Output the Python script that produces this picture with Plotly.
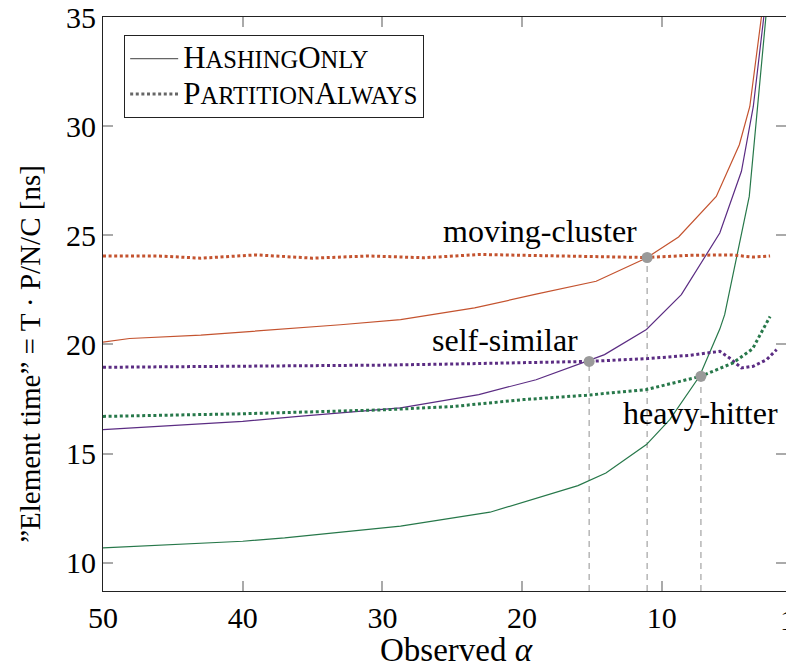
import plotly.graph_objects as go

# ---------------- data ----------------
hash_red_x = [50, 48.1, 43, 37, 33, 28.7, 25, 23.4, 19, 14.7, 11.1, 8.8, 6.1, 4.45, 3.7, 2.87, 2.5]
hash_red_y = [20.1, 20.27, 20.42, 20.7, 20.9, 21.13, 21.5, 21.67, 22.3, 22.89, 23.96, 24.92, 26.78, 29.15, 30.9, 35, 40]

hash_pur_x = [50, 40, 36, 28.7, 23.1, 19.0, 15.4, 14.1, 11.1, 8.6, 5.85, 4.3, 3.45, 2.7, 2.4]
hash_pur_y = [16.09, 16.47, 16.7, 17.09, 17.7, 18.38, 19.22, 19.53, 20.68, 22.28, 25.1, 27.93, 30.9, 35, 40]

hash_grn_x = [50, 40, 37, 28.7, 22.3, 16.0, 14.0, 11.1, 9.43, 7.3, 5.85, 5.5, 3.74, 3.1, 2.55, 2.3]
hash_grn_y = [10.68, 10.98, 11.13, 11.67, 12.31, 13.53, 14.11, 15.41, 16.55, 18.54, 20.7, 21.36, 26.78, 31.2, 35, 40]

part_red_x = [50, 46, 43, 39, 35, 31, 27, 23, 19, 15, 11.1, 8, 5, 3.5, 2.25]
part_red_y = [24.05, 24.05, 23.95, 24.1, 23.95, 24.05, 23.97, 24.12, 24.07, 24.03, 23.98, 24.08, 24.1, 24.0, 24.05]

part_pur_x = [50, 40, 30, 25, 20, 15.2, 11, 8, 5.85, 5.2, 4.3, 3.45, 2.5, 1.78]
part_pur_y = [18.95, 18.99, 19.05, 19.1, 19.15, 19.22, 19.35, 19.5, 19.68, 19.4, 18.92, 19.0, 19.3, 19.76]

part_grn_x = [50, 40, 30, 25, 19.9, 15.4, 11.1, 7.2, 4.9, 3.5, 2.76, 2.25]
part_grn_y = [16.7, 16.82, 17.0, 17.15, 17.47, 17.67, 17.93, 18.54, 19.15, 19.8, 20.68, 21.28]

cross_x = [15.2, 11.05, 7.2]
cross_y = [19.22, 23.98, 18.54]

label_text = ["moving-cluster", "self-similar", "heavy-hitter"]
label_x = [18.7, 21.2, 7.2]
label_y = [25.2, 20.2, 16.85]

x_ticks = [50, 40, 30, 20, 10, 1]
y_ticks = [10, 15, 20, 25, 30, 35]

X_RANGE = [50, 1.11]
Y_RANGE = [8.7, 35]

RED = "#c4532f"
PUR = "#5b2c83"
GRN = "#27784a"
FONT = "Liberation Serif"


def small_caps(word, big=31, small=24.5):
    out = []
    for ch in word:
        if ch.isupper():
            out.append(f"<span style='font-size:{big}px'>{ch}</span>")
        else:
            out.append(f"<span style='font-size:{small}px'>{ch.upper()}</span>")
    return "".join(out)


fig = go.Figure()

# drop lines from crossings
for cx, cy in zip(cross_x, cross_y):
    fig.add_trace(go.Scatter(x=[cx, cx], y=[Y_RANGE[0], cy], mode="lines",
                             line=dict(color="#aaaaaa", width=1.3, dash="6px,5px"),
                             showlegend=False, hoverinfo="skip"))

for xs, ys, c in [(hash_red_x, hash_red_y, RED), (hash_pur_x, hash_pur_y, PUR), (hash_grn_x, hash_grn_y, GRN)]:
    fig.add_trace(go.Scatter(x=xs, y=ys, mode="lines", line=dict(color=c, width=1.2),
                             showlegend=False))
for xs, ys, c in [(part_red_x, part_red_y, RED), (part_pur_x, part_pur_y, PUR), (part_grn_x, part_grn_y, GRN)]:
    fig.add_trace(go.Scatter(x=xs, y=ys, mode="lines", line=dict(color=c, width=3, dash="3px,2.6px"),
                             showlegend=False))

fig.add_trace(go.Scatter(x=cross_x, y=cross_y, mode="markers",
                         marker=dict(color="#9a9a9a", size=11), showlegend=False))

# legend entries
fig.add_trace(go.Scatter(x=[None], y=[None], mode="lines", name=small_caps("HashingOnly"),
                         line=dict(color="#666666", width=1.2)))
fig.add_trace(go.Scatter(x=[None], y=[None], mode="lines", name=small_caps("PartitionAlways"),
                         line=dict(color="#666666", width=3, dash="3px,2.6px")))

for t, lx, ly in zip(label_text, label_x, label_y):
    fig.add_annotation(x=lx, y=ly, text=t, showarrow=False,
                       font=dict(family=FONT, size=32, color="black"))

# last x tick label (partly outside the window)
fig.add_annotation(xref="paper", yref="paper",
                   x=(X_RANGE[0] - x_ticks[-1]) / (X_RANGE[0] - X_RANGE[1]), y=-0.018,
                   xanchor="center", yanchor="top", text=str(x_ticks[-1]), showarrow=False,
                   font=dict(family=FONT, size=30, color="black"))

# axis titles
fig.add_annotation(xref="paper", yref="paper", x=0.518, y=-0.103, xanchor="center", yanchor="middle",
                   text="Observed <i>α</i>", showarrow=False,
                   font=dict(family=FONT, size=33, color="black"))
fig.add_annotation(xref="paper", yref="paper", x=-0.107, y=0.413, xanchor="center", yanchor="middle",
                   text="”Element time” = T · P/N/C [ns]", textangle=-90, showarrow=False,
                   font=dict(family=FONT, size=29, color="black"))

fig.update_layout(
    width=786, height=671,
    margin=dict(l=103, r=0, t=17, b=80),
    plot_bgcolor="white", paper_bgcolor="white",
    font=dict(family=FONT, size=30, color="black"),
    legend=dict(x=0.031, y=0.969, xanchor="left", yanchor="top",
                bgcolor="white", bordercolor="#222", borderwidth=1,
                font=dict(family=FONT, size=25, color="black"),
                tracegroupgap=0, itemwidth=48),
)
fig.update_xaxes(range=X_RANGE, tickvals=x_ticks[:-1], ticktext=[str(v) for v in x_ticks[:-1]],
                 showgrid=False, zeroline=False,
                 showline=True, linecolor="#222", linewidth=1.2, mirror="ticks",
                 ticks="inside", ticklen=10, tickcolor="#aaaaaa", tickwidth=1.5,
                 tickfont=dict(family=FONT, size=30))
fig.update_yaxes(range=Y_RANGE, tickvals=y_ticks, ticktext=[str(v) for v in y_ticks],
                 showgrid=False, zeroline=False,
                 showline=True, linecolor="#222", linewidth=1.2, mirror="ticks",
                 ticks="inside", ticklen=10, tickcolor="#aaaaaa", tickwidth=1.5,
                 tickfont=dict(family=FONT, size=30))

fig.write_html("out.html")
